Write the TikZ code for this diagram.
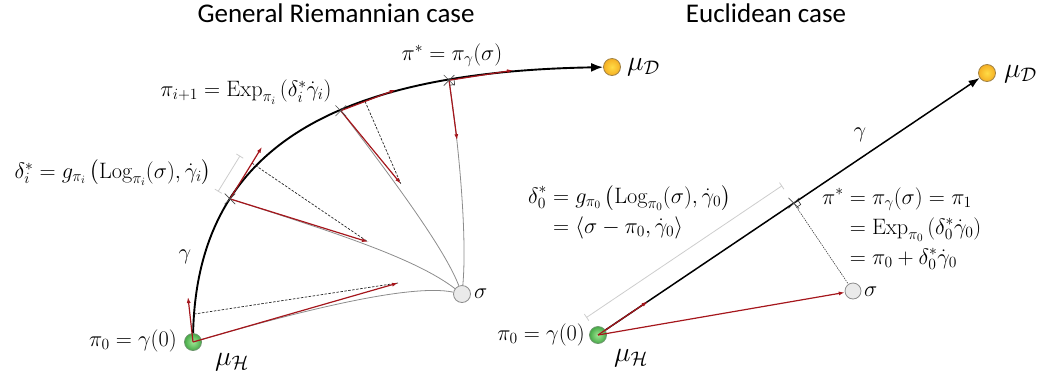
\RequirePackage{fix-cm}
\documentclass[tikz,border=0pt]{standalone}
\usepackage{amsmath}
\usepackage{fontspec}
\newfontfamily\titlefont{Carlito}
\usetikzlibrary{arrows.meta,calc,shapes.misc}
\definecolor{dred}{RGB}{165,22,28}
\definecolor{geo}{RGB}{140,140,140}
\definecolor{brk}{RGB}{205,205,205}
\definecolor{gIn}{RGB}{160,230,150}
\definecolor{gOut}{RGB}{70,170,70}
\definecolor{gLine}{RGB}{110,150,110}
\definecolor{yIn}{RGB}{255,220,70}
\definecolor{yOut}{RGB}{245,175,35}
\definecolor{yLine}{RGB}{160,130,70}
\definecolor{sFill}{RGB}{234,234,234}
\definecolor{sLine}{RGB}{140,140,140}
\pgfdeclarelayer{bg}
\pgfsetlayers{bg,main}
\tikzset{
  ball/.style={circle, minimum size=17pt, inner sep=0pt, line width=0.8pt},
  ballG/.style={ball, draw=gLine, inner color=gIn, outer color=gOut},
  ballY/.style={ball, draw=yLine, inner color=yIn, outer color=yOut},
  ballS/.style={ball, draw=sLine, fill=sFill},
  gam/.style={black, line width=1.9pt, -{Latex[length=12pt,width=9pt]}},
  gamR/.style={black, line width=1.5pt, -{Latex[length=11pt,width=8pt]}},
  redarr/.style={dred, line width=1.2pt, -{Latex[length=6pt,width=4pt]}},
  geod/.style={geo, line width=0.8pt},
  proj/.style={black!85, line width=0.7pt, dash pattern=on 2.5pt off 1.5pt},
  brack/.style={brk, line width=0.8pt, {Bar[width=8pt]}-{Bar[width=8pt]}},
  xmark/.style={draw=black!70, cross out, minimum size=10pt, inner sep=0pt, line width=0.6pt},
  rsq/.style={black!80, line width=0.6pt},
  mathlbl/.style={font=\fontsize{22.3}{26}\selectfont, inner sep=0pt},
  biglbl/.style={font=\fontsize{28}{32}\selectfont, inner sep=0pt},
  ttl/.style={font=\titlefont\fontsize{27}{32}\selectfont, inner sep=0pt},
}
\begin{document}
\begin{tikzpicture}[x=1pt,y=-1pt]
\useasboundingbox (0,0) rectangle (1044,376);
\setlength{\jot}{4pt}

% ---------- titles
\node[ttl] (tL) at (336,13) {General Riemannian case};
\node[ttl] (tR) at (766,13) {Euclidean case};

% ---------- left panel: balls
\node[ballG] (muH1) at (193,342) {};
\node[ballY] (muD1) at (612,67) {};
\node[ballS] (sig1) at (462,294) {};

\begin{pgfonlayer}{bg}
\draw[gam] (muH1.center) .. controls (193,150) and (330,72) .. (muD1)
  coordinate[pos=0.05] (q0) coordinate[pos=0.3] (c1)
  coordinate[pos=0.6] (c2) coordinate[pos=0.79] (c3);
\end{pgfonlayer}

% tips
\coordinate (t0) at (188,297);
\coordinate (l0) at (398,283);
\coordinate (t1) at ($(c1)+(32,-52)$);
\coordinate (l1) at ($(c1)+(138,43)$);
\coordinate (t2) at ($(c2)+(55,-21)$);
\coordinate (l2) at ($(c2)+(60,73)$);
\coordinate (t3) at ($(c3)+(64,-10)$);
\coordinate (l3) at ($(c3)+(8,60)$);
\coordinate (d1) at ($(c1)!42pt!(t1)$);
\coordinate (d2) at ($(c2)!26pt!(t2)$);

\begin{pgfonlayer}{bg}
\draw[geod] (muH1.center) .. controls (296,312) and (410,283) .. (sig1);
\draw[geod] (c1) .. controls (333,232) and (415,258) .. (sig1);
\draw[geod] (c2) .. controls (410,201) and (447,255) .. (sig1);
\draw[geod] (c3) .. controls (460,152) and (467,240) .. (sig1);
\draw[proj] (q0) -- (l0);
\draw[proj] (d1) -- (l1);
\draw[proj] (d2) -- (l2);
\draw[brack] ($(c1)!14pt!90:(t1)$) -- ($(d1)!14pt!-90:(c1)$);
\end{pgfonlayer}

\draw[redarr] (muH1.center) -- (t0);
\draw[redarr] (muH1.center) -- (l0);
\draw[redarr] (c1) -- (t1);
\draw[redarr] (c1) -- (l1);
\draw[redarr] (c2) -- (t2);
\draw[redarr] (c2) -- (l2);
\draw[redarr] (c3) -- (t3);
\draw[redarr] (c3) -- (l3);

\node[xmark] (x1) at (c1) {};
\node[xmark] (xx2) at (c2) {};
\node[xmark] (x3) at (c3) {};
\coordinate (u3) at ($(c3)!5pt!(t3)$);
\coordinate (v3) at ($(c3)!5pt!(l3)$);
\draw[rsq] (u3) -- ($(u3)+(v3)-(c3)$) -- (v3);

% left labels
\node[mathlbl] (lpis) at (452,55) {$\pi^* = \pi_\gamma(\sigma)$};
\node[mathlbl] (lpin) at (246,92) {$\pi_{i+1} = \mathrm{Exp}_{\pi_i}\left(\delta_i^*\dot\gamma_i\right)$};
\node[mathlbl] (ldel) at (113,173) {$\delta_i^* = g_{\pi_i}\left(\mathrm{Log}_{\pi_i}(\sigma), \dot\gamma_i\right)$};
\node[mathlbl] (lgam) at (185,257) {$\gamma$};
\node[mathlbl, anchor=west] (lsig) at (474,294) {$\sigma$};
\node[mathlbl] (lpi0) at (133,341) {$\pi_0 = \gamma(0)$};
\node[biglbl] (lmuH) at (232,362) {$\mu_{\mathcal{H}}$};
\node[biglbl, anchor=west] (lmuD) at (627,67) {$\mu_{\mathcal{D}}$};

% ---------- right panel
\node[ballG] (muH2) at (598,335) {};
\node[ballY] (muD2) at (987,73) {};
\node[ballS, minimum size=16pt] (sig2) at (853,291) {};
\coordinate (x2) at ($(muH2.center)!(sig2.center)!(muD2.center)$);
\coordinate (r2) at ($(muH2.center)!60pt!(muD2.center)$);

\begin{pgfonlayer}{bg}
\draw[gamR] (muH2) -- (muD2);
\draw[brack] ($(muH2.center)!21pt!90:(muD2.center)$) -- ($(x2)!21pt!-90:(muH2.center)$);
\draw[proj, line width=0.5pt, dash pattern=on 1.5pt off 1pt] (x2) -- (sig2);
\end{pgfonlayer}

\draw[redarr] (muH2.center) -- (r2);
\draw[redarr] (muH2.center) -- (sig2);
\node[xmark] (xr) at (x2) {};
\coordinate (u2) at ($(x2)!5pt!(muD2.center)$);
\coordinate (v2) at ($(x2)!5pt!(sig2.center)$);
\draw[rsq] (u2) -- ($(u2)+(v2)-(x2)$) -- (v2);

\node[mathlbl, anchor=west] (rdel) at (528,213) {$\begin{aligned}\delta_0^* &= g_{\pi_0}\left(\mathrm{Log}_{\pi_0}(\sigma), \dot\gamma_0\right)\\ &= \langle \sigma - \pi_0, \dot\gamma_0\rangle\end{aligned}$};
\node[mathlbl, anchor=west] (rpis) at (822,229) {$\begin{aligned}\pi^* &= \pi_\gamma(\sigma) = \pi_1\\ &= \mathrm{Exp}_{\pi_0}\left(\delta_0^*\dot\gamma_0\right)\\ &= \pi_0 + \delta_0^*\dot\gamma_0\end{aligned}$};
\node[mathlbl] (rgam) at (860,135) {$\gamma$};
\node[mathlbl, anchor=west] (rsig) at (864,292) {$\sigma$};
\node[mathlbl, anchor=east] (rpi0) at (585,335) {$\pi_0 = \gamma(0)$};
\node[biglbl] (rmuH) at (631,358) {$\mu_{\mathcal{H}}$};
\node[biglbl, anchor=west] (rmuD) at (1004,74) {$\mu_{\mathcal{D}}$};
\end{tikzpicture}
\end{document}
